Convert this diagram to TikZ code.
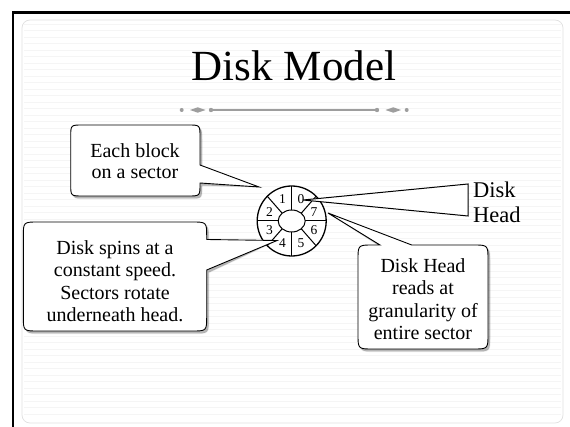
\documentclass[tikz,border=0pt]{standalone}
\usepackage{fontspec}
\setmainfont{Liberation Serif}
\usetikzlibrary{calc}
\begin{document}
\begin{tikzpicture}[x=1pt,y=-1pt,
  calloutline/.style={draw=black, line width=0.9pt, fill=white, line join=miter},
  calloutshadow/.style={fill=black, opacity=0.28, draw=black!50, line width=1.2pt, draw opacity=0.15},
  calltext/.style={align=center, inner sep=0pt, font=\fontsize{20}{22.5}\selectfont},
  diskline/.style={line width=1pt},
  seclabel/.style={inner sep=0pt, font=\fontsize{13.5}{14}\selectfont},
  divider/.style={black!38}]
\useasboundingbox (0,0) rectangle (570,427);
\fill[white] (0,0) rectangle (570,427);
% ruled paper
\foreach \yy in {24,30.5,...,420} \draw[black!4, line width=0.5pt] (24,\yy) -- (561,\yy);
\draw[black!12, line width=0.7pt, rounded corners=8pt] (22,20) rectangle (563,423);
% slide border
\draw[black, line width=2.5pt] (13,12.5) -- (570,12.5);
\draw[black, line width=2.5pt] (13,11.25) -- (13,427);

% title
\node[anchor=base, inner sep=0pt, font=\fontsize{43}{46}\selectfont] (title) at (294,81) {Disk Model};
% divider
\draw[divider, line width=1.2pt] (211,110) -- (377,110);
\fill[divider] (181.7,110) circle (2) (211,110) circle (2.2) (377,110) circle (2.2) (406.7,110) circle (2);
\fill[divider] (190,110) -- (197.7,107.3) -- (205.5,110) -- (197.7,112.7) -- cycle;
\fill[divider] (385.5,110) -- (393.3,107.3) -- (401,110) -- (393.3,112.7) -- cycle;

% disk
\coordinate (dc) at (291.7,221);
\draw[line width=1.3pt, fill=white] (dc) ellipse (34.5 and 35);
\foreach \a in {0,45,...,315} \draw[diskline] ($(dc)+(\a:13.5 and 11)$) -- ($(dc)+(\a:34.5 and 35)$);
\draw[diskline, fill=white] (dc) ellipse (13.5 and 11);
\foreach \n/\a in {0/-67.5, 1/-112.5, 2/-157.5, 3/157.5, 4/112.5, 5/67.5, 6/22.5, 7/-22.5}
  \node[seclabel] (s\n) at ($(dc)+(\a:24)$) {\n};

% disk head
\coordinate (headtip) at (303,200);
\coordinate (headtop) at (468,184);
\coordinate (headbot) at (468,216);
\draw[line width=1pt, fill=white, line join=miter] (headtip) -- (headtop) -- (headbot) -- cycle;
\node[anchor=west, inner sep=0pt, align=left, font=\fontsize{22.5}{25}\selectfont] (headlabel) at (473,202) {Disk\\Head};

% callout 1
\coordinate (tip1) at (259,187);
\foreach \st/\sh in {calloutshadow/{(2,2.5)}, calloutline/{(0,0)}}
  \path[\st, shift={\sh}]
    (82.7,125) -- (188,125) .. controls (200,125) .. (200,137) -- (200,165) -- (tip1) -- (200,183)
    -- (200,184) .. controls (200,196) .. (188,196) -- (82.7,196) .. controls (70.7,196) .. (70.7,184)
    -- (70.7,137) .. controls (70.7,125) .. (82.7,125) -- cycle;
\node[calltext, font=\fontsize{20}{21}\selectfont] (t1) at (135,161) {Each block\\on a sector};

% callout 2
\coordinate (tip2) at (277,240.5);
\foreach \st/\sh in {calloutshadow/{(2,2.5)}, calloutline/{(0,0)}}
  \path[\st, shift={\sh}]
    (38.3,222) -- (191.7,222) .. controls (206.7,222) .. (206.7,237) -- (206.7,239.5) -- (tip2) -- (206.7,270)
    -- (206.7,316) .. controls (206.7,331) .. (191.7,331) -- (38.3,331) .. controls (23.3,331) .. (23.3,316)
    -- (23.3,237) .. controls (23.3,222) .. (38.3,222) -- cycle;
\node[calltext] (t2) at (115,281) {Disk spins at a\\constant speed.\\Sectors rotate\\underneath head.};

% callout 3
\coordinate (tip3) at (328,213);
\foreach \st/\sh in {calloutshadow/{(2,2.5)}, calloutline/{(0,0)}}
  \path[\st, shift={\sh}]
    (373,245) -- (380,245) -- (tip3) -- (411.7,245) -- (473,245) .. controls (488,245) .. (488,260)
    -- (488,334) .. controls (488,349) .. (473,349) -- (373,349) .. controls (358,349) .. (358,334)
    -- (358,260) .. controls (358,245) .. (373,245) -- cycle;
\node[calltext] (t3) at (423,299) {Disk Head\\reads at\\granularity of\\entire sector};
\end{tikzpicture}
\end{document}
